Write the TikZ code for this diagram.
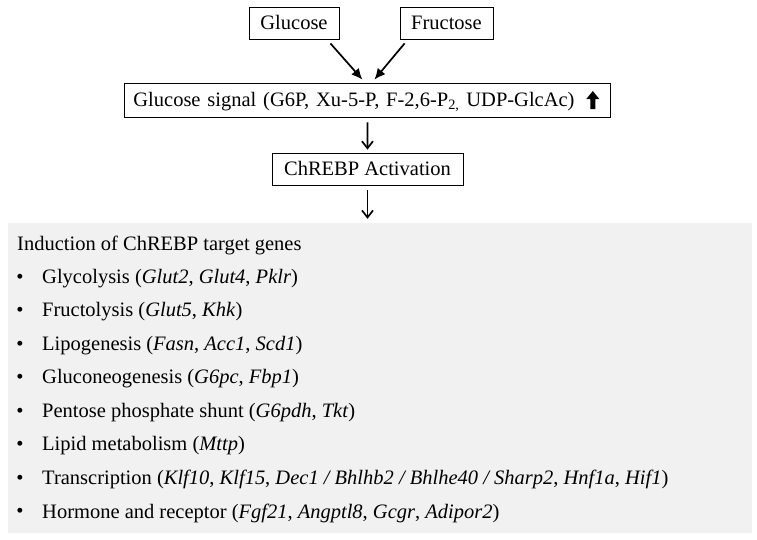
\documentclass[tikz,border=0pt]{standalone}
\usepackage{fontspec}
\setmainfont{Liberation Serif}
\usetikzlibrary{arrows.meta,positioning}
\definecolor{panelgrey}{RGB}{241,241,241}

\begin{document}
\begin{tikzpicture}[x=1pt,y=-1pt,
  every node/.style={font=\fontsize{20.5}{24}\selectfont},
  sugar/.style={draw,line width=0.8pt,minimum height=32pt,inner xsep=8pt,text height=13.5pt,text depth=0pt},
  flow/.style={-{Latex[length=11pt,width=10pt]},line width=1.7pt},
  down/.style={-{Straight Barb[length=7pt,width=11pt]},line width=1.7pt},
  item/.style={anchor=west,inner sep=0pt}]
\useasboundingbox (0,0) rectangle (757,539);

\node[sugar,minimum width=90pt] (glucose) at (294,23) {Glucose};
\node[sugar,minimum width=93pt] (fructose) at (446.5,23) {Fructose};
\node[sugar,anchor=west,minimum height=34pt,text width=468pt,inner xsep=9pt] (signal) at (124,100)
  {Glucose signal (G6P, Xu-5-P, F-2,6-P\textsubscript{2,} UDP-GlcAc)};
\begin{scope}[shift={([xshift=-18pt]signal.east)}]
\fill (-2.5,9) -- (-2.5,-1) -- (-6.5,-1) -- (0,-9) -- (6.5,-1) -- (2.5,-1) -- (2.5,9) -- cycle;
\end{scope}
\node[sugar,minimum width=191pt] (chrebp) at (367.5,169) {ChREBP Activation};
\node[fill=panelgrey,minimum width=744pt,minimum height=310pt,inner sep=0pt] (targets) at (380,378) {};

\draw[flow] ([xshift=-9pt,yshift=-4pt]glucose.south east) -- ([xshift=-5pt,yshift=3pt]signal.north);
\draw[flow] ([xshift=5pt,yshift=-4pt]fructose.south west) -- ([xshift=7pt,yshift=3pt]signal.north);
\draw[down] ([yshift=-5pt]signal.south) -- ([yshift=3pt]chrebp.north);
\path (chrebp.south |- targets.north) coordinate (entry);
\draw[down] ([yshift=-5pt]chrebp.south) -- ([yshift=4pt]entry);

\node[item] (head) at (17,245) {Induction of ChREBP target genes};
\foreach \txt [count=\i] in {
  {Glycolysis (\textit{Glut2}, \textit{Glut4}, \textit{Pklr})},
  {Fructolysis (\textit{Glut5}, \textit{Khk})},
  {Lipogenesis (\textit{Fasn}, \textit{Acc1}, \textit{Scd1})},
  {Gluconeogenesis (\textit{G6pc}, \textit{Fbp1})},
  {Pentose phosphate shunt (\textit{G6pdh}, \textit{Tkt})},
  {Lipid metabolism (\textit{Mttp})},
  {Transcription (\textit{Klf10}, \textit{Klf15}, \textit{Dec1 / Bhlhb2 / Bhlhe40 / Sharp2}, \textit{Hnf1a}, \textit{Hif1})},
  {Hormone and receptor (\textit{Fgf21}, \textit{Angptl8}, \textit{Gcgr}, \textit{Adipor2})}}
{
  \node (dot\i) at (20,{245+33.5*\i}) {\textbullet};
  \node[item] (gene\i) at (42,{245+33.5*\i}) {\txt};
}
\end{tikzpicture}
\end{document}
